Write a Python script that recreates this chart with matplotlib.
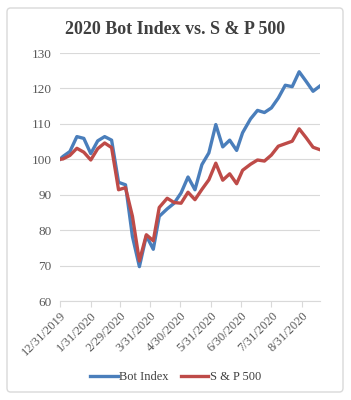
import matplotlib
matplotlib.use('Agg')
import matplotlib.pyplot as plt
from matplotlib.patches import FancyBboxPatch
import pandas as pd

dates = pd.to_datetime([
    '2019-12-31', '2020-01-03', '2020-01-10', '2020-01-17', '2020-01-24', '2020-01-31',
    '2020-02-07', '2020-02-14', '2020-02-21', '2020-02-28', '2020-03-06', '2020-03-13',
    '2020-03-20', '2020-03-27', '2020-04-03', '2020-04-09', '2020-04-17', '2020-04-24',
    '2020-05-01', '2020-05-08', '2020-05-15', '2020-05-22', '2020-05-29', '2020-06-05',
    '2020-06-12', '2020-06-19', '2020-06-26', '2020-07-02', '2020-07-10', '2020-07-17',
    '2020-07-24', '2020-07-31', '2020-08-07', '2020-08-14', '2020-08-21', '2020-08-28',
    '2020-09-04', '2020-09-11', '2020-09-18'])

bot_index = [100, 100.8, 102.2, 106.4, 105.9, 101.6, 105.2, 106.4, 105.4, 93.5,
             92.8, 78.2, 69.7, 78.4, 74.6, 83.9, 86.0, 87.6, 90.5, 95.0,
             91.4, 98.5, 101.8, 109.8, 103.5, 105.4, 102.5, 107.5, 111.4, 113.8,
             113.2, 114.5, 117.3, 120.9, 120.5, 124.7, 122.0, 119.2, 120.7]

sp500 = [100, 100.1, 101.1, 103.1, 102.0, 99.8, 103.0, 104.6, 103.3, 91.4,
         92.0, 83.9, 71.3, 78.7, 77.0, 86.4, 89.0, 87.8, 87.6, 90.7,
         88.6, 91.5, 94.2, 98.9, 94.1, 95.9, 93.1, 96.9, 98.6, 99.8,
         99.5, 101.2, 103.7, 104.4, 105.1, 108.6, 106.1, 103.4, 102.7]

tick_dates = pd.to_datetime(['2019-12-31', '2020-01-31', '2020-02-29', '2020-03-31', '2020-04-30',
                             '2020-05-31', '2020-06-30', '2020-07-31', '2020-08-31'])
tick_labels = ['12/31/2019', '1/31/2020', '2/29/2020', '3/31/2020', '4/30/2020',
               '5/31/2020', '6/30/2020', '7/31/2020', '8/31/2020']

plt.rcParams['font.family'] = ['Liberation Serif', 'DejaVu Serif']

fig = plt.figure(figsize=(3.51, 4.0), dpi=100)
fig.patch.set_facecolor('white')

# chart border
border = FancyBboxPatch((7 / 351, 8 / 400), 336 / 351, 384 / 400,
                        boxstyle='round,pad=0,rounding_size=0.01',
                        transform=fig.transFigure, facecolor='none',
                        edgecolor='#d9d9d9', linewidth=1.0)
fig.patches.append(border)

ax = fig.add_axes([60 / 351, 1 - 301 / 400, 260 / 351, 248 / 400])

ax.plot(dates, bot_index, color='#4a7ebb', lw=2.4, label='Bot Index', solid_joinstyle='round')
ax.plot(dates, sp500, color='#be4b48', lw=2.4, label='S & P 500', solid_joinstyle='round')

ax.set_ylim(60, 130)
ax.set_yticks(range(60, 131, 10))
ax.set_xlim(dates[0], dates[-1])
ax.set_xticks(tick_dates)
ax.set_xticklabels(tick_labels, rotation=45, ha='right', rotation_mode='anchor')

ax.grid(axis='y', color='#d9d9d9', lw=0.8)
ax.set_axisbelow(True)
for s in ['top', 'right', 'left']:
    ax.spines[s].set_visible(False)
ax.spines['bottom'].set_color('#d9d9d9')
ax.tick_params(axis='y', length=0, labelsize=9.5, colors='#595959', pad=6)
ax.tick_params(axis='x', length=4, color='#d9d9d9', labelsize=9, labelcolor='#595959', pad=2)

fig.text(0.5, 1 - 30 / 400, '2020 Bot Index vs. S & P 500', ha='center', va='center',
         fontsize=13, fontweight='bold', color='#404040')

fig.legend(loc='center', bbox_to_anchor=(0.5, 1 - 377 / 400), ncol=2, frameon=False,
           fontsize=9, handlelength=2.2, handletextpad=0.1, columnspacing=1.0,
           labelcolor='#404040')

fig.savefig('out.png', dpi=100)
